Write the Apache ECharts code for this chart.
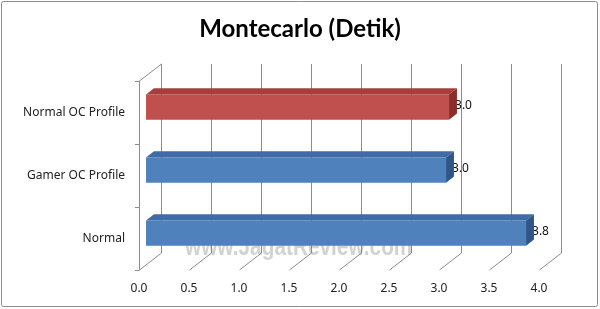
<!DOCTYPE html>
<html>
<head>
<meta charset="utf-8">
<script src="https://cdn.jsdelivr.net/npm/echarts@6/dist/echarts.min.js"></script>
<style>
  html, body { margin: 0; padding: 0; background: #fff; }
  #chart { width: 600px; height: 309px; }
</style>
</head>
<body>
<div id="chart"></div>
<script>
// data
var categories = ['Normal', 'Gamer OC Profile', 'Normal OC Profile']
var seconds = [3.8, 3.0, 3.03]
var xTicks = [0, 0.5, 1, 1.5, 2, 2.5, 3, 3.5, 4]

// 3d look: depth offset of the back wall, bar sits between F0 and F1 of the depth
var DX = 22
var DY = -17
var F0 = 0.32
var F1 = 0.68
var LINE = '#8c8c8c'
var PAL = {
  blue: { front: '#4f81bd', top: '#3f6ca6', side: '#2f5689' },
  red: { front: '#c0504d', top: '#a63f3c', side: '#8a2d2b' }
}

var myChart = echarts.init(document.getElementById('chart'))

function renderFrame (params, api) {
  var v = api.value(0)
  var cs = params.coordSys
  var x = Math.round(api.coord([v, 0])[0]) + 0.5
  var top = cs.y
  var bottom = cs.y + cs.height
  var st = { stroke: LINE, lineWidth: 1 }
  var children = [
    { type: 'line', shape: { x1: x, y1: bottom, x2: x + DX, y2: bottom + DY }, style: st },
    { type: 'line', shape: { x1: x + DX, y1: top + DY, x2: x + DX, y2: bottom + DY }, style: st }
  ]
  if (v === 0) {
    children.push({ type: 'line', shape: { x1: x, y1: top, x2: x + DX, y2: top + DY }, style: st })
  }
  return { type: 'group', children: children }
}

function renderBar (params, api) {
  var v = api.value(0)
  var i = api.value(1)
  var p0 = api.coord([0, i])
  var p1 = api.coord([v, i])
  var h = api.size([0, 1])[1] * 0.4
  var bx = DX * (F1 - F0)
  var by = DY * (F1 - F0)
  var x0 = p0[0] + DX * F0
  var x1 = p1[0] + DX * F0
  var yT = p0[1] + DY * F0 - h / 2
  var yB = yT + h
  var pal = i === 2 ? PAL.red : PAL.blue
  return {
    type: 'group',
    children: [
      {
        type: 'text',
        style: {
          text: v.toFixed(1),
          x: x1 + 6,
          y: (yT + yB) / 2 - 1,
          verticalAlign: 'middle',
          fill: '#111',
          font: '12px "Noto Sans"'
        }
      },
      { type: 'rect', shape: { x: x0, y: yT, width: x1 - x0, height: h }, style: { fill: pal.front } },
      {
        type: 'polygon',
        shape: { points: [[x0, yT], [x1, yT], [x1 + bx, yT + by], [x0 + bx, yT + by]] },
        style: { fill: pal.top }
      },
      {
        type: 'polygon',
        shape: { points: [[x1, yT], [x1 + bx, yT + by], [x1 + bx, yB + by], [x1, yB]] },
        style: { fill: pal.side }
      }
    ]
  }
}

var option = {
  backgroundColor: '#fff',
  animation: false,
  title: {
    text: 'Montecarlo (Detik)',
    left: 'center',
    top: 12,
    textStyle: {
      color: '#000',
      fontSize: 24,
      fontWeight: 'bold',
      fontFamily: 'Lato'
    }
  },
  graphic: [
    {
      type: 'rect',
      z: 0,
      shape: { x: 1.5, y: 1.5, width: 596, height: 305, r: 2 },
      style: { fill: 'none', stroke: '#8c8c8c', lineWidth: 1 }
    },
    {
      type: 'text',
      z: 0,
      x: 185,
      y: 235,
      scaleX: 0.8,
      style: {
        text: 'www.JagatReview.com',
        fill: '#d2d2d2',
        font: 'bold 26px "Liberation Sans"'
      }
    }
  ],
  grid: {
    left: 139,
    right: 61,
    top: 81,
    bottom: 39
  },
  xAxis: {
    type: 'value',
    min: 0,
    max: 4,
    interval: 0.5,
    axisLine: { show: false },
    axisTick: { show: false },
    splitLine: { show: false },
    axisLabel: {
      margin: 13,
      color: '#222',
      fontSize: 12,
      fontFamily: 'Noto Sans',
      formatter: function (v) { return v.toFixed(1) }
    }
  },
  yAxis: {
    type: 'category',
    data: categories,
    axisLine: { show: true, lineStyle: { color: LINE } },
    axisTick: { show: true, length: 4, lineStyle: { color: LINE } },
    axisLabel: {
      margin: 14,
      color: '#222',
      fontSize: 12,
      fontFamily: 'Noto Sans'
    }
  },
  series: [
    {
      name: 'frame',
      type: 'custom',
      z: 1,
      silent: true,
      renderItem: renderFrame,
      encode: { x: 0, y: 1 },
      data: xTicks.map(function (t) { return [t, 0] })
    },
    {
      name: 'Montecarlo',
      type: 'custom',
      z: 3,
      renderItem: renderBar,
      encode: { x: 0, y: 1 },
      data: seconds.map(function (s, i) { return [s, i] })
    }
  ]
}
myChart.setOption(option)
</script>
</body>
</html>
